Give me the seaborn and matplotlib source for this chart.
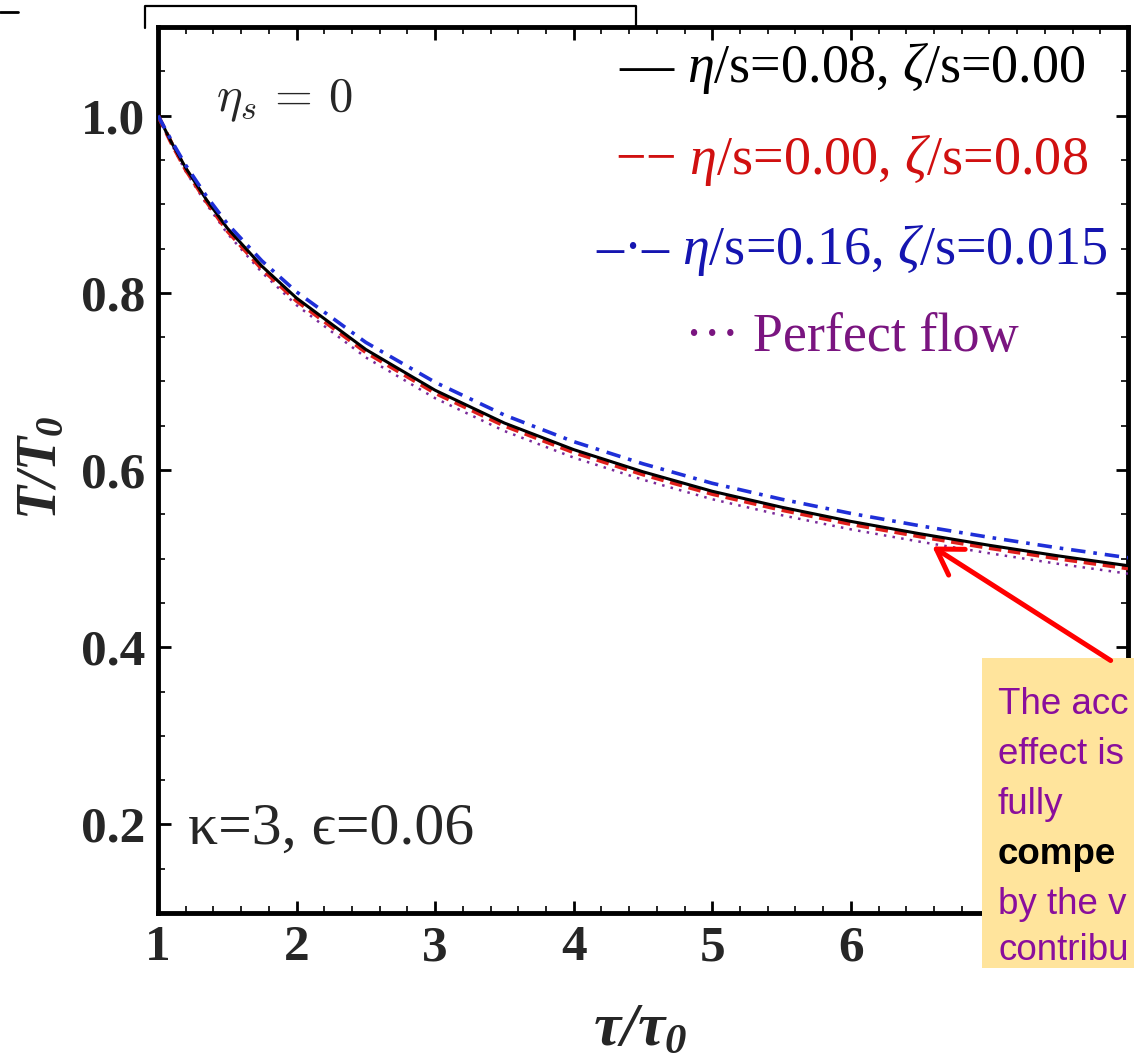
import numpy as np
import pandas as pd
import matplotlib
matplotlib.use("Agg")
import matplotlib.pyplot as plt
import seaborn as sns
from matplotlib.patches import Rectangle, FancyArrowPatch
from matplotlib.lines import Line2D
from matplotlib.ticker import MultipleLocator

# ---------------- data ----------------
tau = [1.0, 1.1, 1.2, 1.35, 1.5, 1.75, 2.0, 2.5, 3.0, 3.5, 4.0, 4.5, 5.0, 5.5, 6.0, 6.5, 7.0, 7.5, 8.0]
T_shear = [1.000, 0.969, 0.941, 0.905, 0.873, 0.830, 0.794, 0.736, 0.690, 0.653, 0.623, 0.598, 0.576, 0.558, 0.542, 0.528, 0.515, 0.503, 0.492]
T_bulk = [1.000, 0.968, 0.939, 0.903, 0.870, 0.827, 0.791, 0.733, 0.687, 0.650, 0.620, 0.595, 0.573, 0.555, 0.539, 0.525, 0.512, 0.500, 0.489]
T_both = [1.000, 0.971, 0.944, 0.909, 0.878, 0.836, 0.801, 0.744, 0.699, 0.662, 0.632, 0.607, 0.585, 0.567, 0.551, 0.537, 0.524, 0.512, 0.501]
T_ideal = [1.000, 0.967, 0.937, 0.900, 0.867, 0.823, 0.786, 0.727, 0.681, 0.644, 0.614, 0.589, 0.567, 0.549, 0.533, 0.519, 0.506, 0.494, 0.483]

series_labels = [r"— $\eta$/s=0.08, $\zeta$/s=0.00",
                 r"−− $\eta$/s=0.00, $\zeta$/s=0.08",
                 r"–·– $\eta$/s=0.16, $\zeta$/s=0.015",
                 "··· Perfect flow"]
x_ticks = [1, 2, 3, 4, 5, 6]
y_ticks = [0.2, 0.4, 0.6, 0.8, 1.0]
# the note is cut by the right edge of the slide; only its visible part is shown
note_lines = ["The acc", "effect is", "fully", "compe", "by the v", "contribu"]

df = pd.DataFrame({"tau": tau * 4,
                   "T": T_ideal + T_bulk + T_shear + T_both,
                   "case": ["ideal"] * len(tau) + ["bulk"] * len(tau) + ["shear"] * len(tau) + ["both"] * len(tau)})

# ---------------- style ----------------
sns.set_theme(style="ticks")
plt.rcParams["font.family"] = ["Liberation Serif", "DejaVu Serif"]
plt.rcParams["mathtext.fontset"] = "custom"
plt.rcParams["mathtext.rm"] = "Liberation Serif"
plt.rcParams["mathtext.it"] = "Liberation Serif:italic"
plt.rcParams["mathtext.bf"] = "Liberation Serif:bold:italic"

W, H = 1134, 1057
fig = plt.figure(figsize=(W / 100, H / 100), dpi=100)
fig.patch.set_facecolor("white")

def fx(px):
    return px / W

def fy(py):
    return 1 - py / H

# stray fragments of the slide around the chart
fig.add_artist(Line2D([fx(145), fx(145), fx(636), fx(636)], [fy(28), fy(6), fy(6), fy(28)],
                      color="black", lw=1.6, transform=fig.transFigure))
fig.add_artist(Line2D([fx(0), fx(18)], [fy(12), fy(12)], color="black", lw=2.0, transform=fig.transFigure))

ax = fig.add_axes([fx(158), fy(913), fx(1128) - fx(158), fy(27) - fy(913)])

styles = {
    "ideal": dict(color="#7a2a9a", lw=1.8, ls=(0, (1, 2.5))),
    "bulk": dict(color="#e0201c", lw=3.0, ls=(0, (3, 1.6))),
    "shear": dict(color="black", lw=2.2, ls="-"),
    "both": dict(color="#1f2fd8", lw=2.6, ls=(0, (4, 2.2, 1, 2.2))),
}
for case in ["ideal", "bulk", "shear", "both"]:
    st = styles[case]
    sns.lineplot(data=df[df["case"] == case], x="tau", y="T", ax=ax, color=st["color"],
                 linewidth=st["lw"], linestyle=st["ls"], legend=False, zorder=3)

ax.set_xlim(1, 8)
ax.set_ylim(0.1, 1.1)
ax.set_xticks(x_ticks)
ax.set_xticklabels([str(v) for v in x_ticks])
ax.set_yticks(y_ticks)
ax.set_yticklabels([f"{v:.1f}" for v in y_ticks])
ax.xaxis.set_minor_locator(MultipleLocator(0.2))
ax.yaxis.set_minor_locator(MultipleLocator(0.05))
ax.tick_params(which="both", direction="in", top=True, right=True, width=2.0, color="black")
ax.tick_params(which="major", length=9, labelsize=37, pad=9)
ax.tick_params(which="minor", length=5, width=1.2)
for lab in ax.get_xticklabels() + ax.get_yticklabels():
    lab.set_fontweight("bold")
    lab.set_family("Liberation Serif")
for sp in ax.spines.values():
    sp.set_linewidth(3.5)
    sp.set_color("black")
ax.set_xlabel("")
ax.set_ylabel("")
ax.set_facecolor("white")

# axis titles
fig.text(fx(640), fy(1030), r"$\mathbf{\tau/\tau_0}$", fontsize=44, ha="center", va="center")
fig.text(fx(42), fy(468), r"$\mathbf{T/T_0}$", fontsize=40, ha="center", va="center", rotation=90)

# in-plot labels
fig.text(fx(216), fy(100), r"$\eta_s\,=\,0$", fontsize=35, ha="left", va="center", math_fontfamily="cm")
fig.text(fx(188), fy(830), "κ=3, ϵ=0.06", fontsize=43, ha="left", va="center",
         family=["Liberation Serif", "DejaVu Serif"])

leg_colors = ["black", "#d01010", "#1515b0", "#7a1580"]
leg_y = [68, 160, 250, 338]
for lab, col, yy in zip(series_labels, leg_colors, leg_y):
    fig.text(fx(852), fy(yy), lab, fontsize=39, color=col, ha="center", va="center")

# annotation box and arrow
fig.add_artist(Rectangle((fx(982), fy(968)), fx(152), fy(658) - fy(968), transform=fig.transFigure,
                         facecolor="#ffe49c", edgecolor="none", zorder=5))
note_y = [705, 755, 805, 855, 905, 950]
for line, yy in zip(note_lines, note_y):
    bold = line == "compe"
    fig.text(fx(998), fy(yy), line, fontsize=26.5, color="black" if bold else "#8a0e9c",
             fontweight="bold" if bold else "normal", ha="left", va="center",
             family="Liberation Sans", zorder=6)
arrow = FancyArrowPatch((fx(1113), fy(662)), (fx(930), fy(545)), transform=fig.transFigure,
                        arrowstyle="->,head_length=0.8,head_width=0.5", color="#ff0000", lw=3.6,
                        mutation_scale=22, zorder=7)
fig.add_artist(arrow)

fig.savefig("out.png", dpi=100)
